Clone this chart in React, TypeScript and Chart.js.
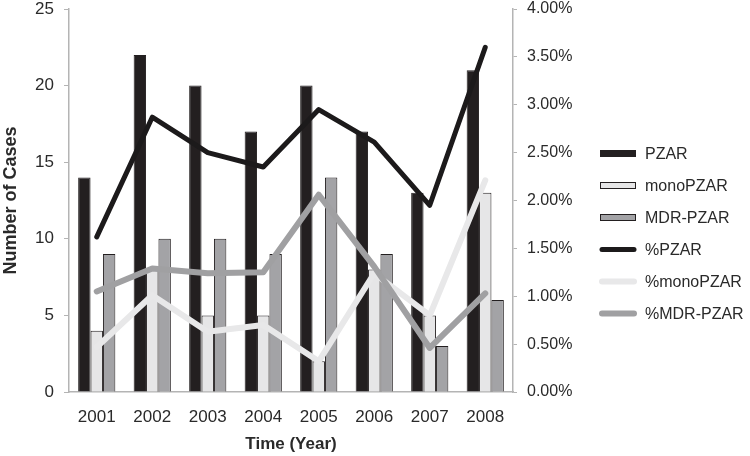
import { useEffect, useRef } from "react";
import { Chart, registerables } from "chart.js";

Chart.register(...registerables);

const years = ["2001", "2002", "2003", "2004", "2005", "2006", "2007", "2008"];
const pzar = [14, 22, 20, 17, 20, 17, 13, 21];
const monoPzar = [4, 8, 5, 5, 2, 8, 5, 13];
const mdrPzar = [9, 10, 10, 9, 14, 9, 3, 6];
const pctPzar = [1.62, 2.87, 2.5, 2.35, 2.95, 2.61, 1.95, 3.6];
const pctMono = [0.47, 1.01, 0.63, 0.7, 0.32, 1.24, 0.8, 2.21];
const pctMdr = [1.05, 1.29, 1.24, 1.25, 2.06, 1.31, 0.46, 1.03];

const FONT = "'Liberation Sans', Arial, Helvetica, sans-serif";
const TEXT = "#2a2a2a";
const AXIS = "#b4b4b4";

const sideLegend = {
  id: "sideLegend",
  afterDraw(chart: any) {
    const ctx = chart.ctx as CanvasRenderingContext2D;
    const area = chart.chartArea;
    const items = chart.data.datasets as any[];
    const rowH = 32;
    const boxW = 36;
    const x0 = area.right + 87;
    const cy = (area.top + area.bottom) / 2 + 33;
    let y = cy - ((items.length - 1) * rowH) / 2;
    ctx.save();
    ctx.font = `16px ${FONT}`;
    ctx.textBaseline = "middle";
    ctx.textAlign = "left";
    for (const ds of items) {
      if (ds.type === "bar") {
        ctx.fillStyle = ds.backgroundColor;
        ctx.fillRect(x0, y - 3.5, boxW, 7);
        ctx.lineWidth = 1;
        ctx.strokeStyle = ds.borderColor;
        ctx.strokeRect(x0 + 0.5, y - 3.5 + 0.5, boxW - 1, 6);
      } else {
        ctx.strokeStyle = ds.borderColor;
        ctx.lineWidth = ds.borderWidth;
        ctx.lineCap = "round";
        ctx.beginPath();
        ctx.moveTo(x0 + 2, y);
        ctx.lineTo(x0 + boxW - 2, y);
        ctx.stroke();
      }
      ctx.fillStyle = TEXT;
      ctx.fillText(ds.label, x0 + boxW + 9, y + 1);
      y += rowH;
    }
    ctx.restore();
  },
};

export default function App() {
  const ref = useRef<HTMLCanvasElement | null>(null);

  useEffect(() => {
    document.body.style.margin = "0";
    const canvas = ref.current;
    if (!canvas) return;
    const chart = new Chart(canvas, {
      type: "bar",
      data: {
        labels: years,
        datasets: [
          {
            type: "bar",
            label: "PZAR",
            data: pzar,
            backgroundColor: "#231f20",
            borderColor: "#231f20",
            borderWidth: 1,
            yAxisID: "y",
            order: 3,
            categoryPercentage: 0.67,
            barPercentage: 1,
          },
          {
            type: "bar",
            label: "monoPZAR",
            data: monoPzar,
            backgroundColor: "#e6e6e7",
            borderColor: "#231f20",
            borderWidth: 1,
            yAxisID: "y",
            order: 3,
            categoryPercentage: 0.67,
            barPercentage: 1,
          },
          {
            type: "bar",
            label: "MDR-PZAR",
            data: mdrPzar,
            backgroundColor: "#a3a3a6",
            borderColor: "#231f20",
            borderWidth: 1,
            yAxisID: "y",
            order: 3,
            categoryPercentage: 0.67,
            barPercentage: 1,
          },
          {
            type: "line",
            label: "%PZAR",
            data: pctPzar,
            borderColor: "#1c1a1b",
            backgroundColor: "#1c1a1b",
            borderWidth: 5,
            pointRadius: 0,
            tension: 0,
            borderJoinStyle: "round",
            borderCapStyle: "round",
            yAxisID: "y1",
            order: 2,
          },
          {
            type: "line",
            label: "%monoPZAR",
            data: pctMono,
            borderColor: "#e8e8e9",
            backgroundColor: "#e8e8e9",
            borderWidth: 6,
            pointRadius: 0,
            tension: 0,
            borderJoinStyle: "round",
            borderCapStyle: "round",
            yAxisID: "y1",
            order: 1,
          },
          {
            type: "line",
            label: "%MDR-PZAR",
            data: pctMdr,
            borderColor: "#a0a0a2",
            backgroundColor: "#a0a0a2",
            borderWidth: 6,
            pointRadius: 0,
            tension: 0,
            borderJoinStyle: "round",
            borderCapStyle: "round",
            yAxisID: "y1",
            order: 0,
          },
        ] as any,
      },
      options: {
        animation: false,
        responsive: false,
        maintainAspectRatio: false,
        layout: { padding: { top: 9, left: 0, right: 0, bottom: 0 } },
        plugins: {
          legend: { display: false },
          tooltip: { enabled: false },
        },
        scales: {
          x: {
            grid: { display: false },
            border: { display: true, color: AXIS, width: 1.5 },
            ticks: {
              color: TEXT,
              font: { family: FONT, size: 17 },
              padding: 7,
              maxRotation: 0,
            },
            title: {
              display: true,
              text: "Time (Year)",
              color: TEXT,
              font: { family: FONT, size: 17, weight: "bold" },
              padding: { top: 4, bottom: 1 },
            },
            afterFit: (s: any) => {
              s.height = 64;
              s.paddingLeft = 0;
              s.paddingRight = 0;
            },
          },
          y: {
            position: "left",
            min: 0,
            max: 25,
            grid: {
              display: true,
              drawOnChartArea: false,
              drawTicks: true,
              tickLength: 5,
              color: AXIS,
            },
            border: { display: true, color: AXIS, width: 1.5 },
            ticks: {
              stepSize: 5,
              color: TEXT,
              font: { family: FONT, size: 17 },
              padding: 10,
            },
            title: {
              display: true,
              text: "Number of Cases",
              color: TEXT,
              font: { family: FONT, size: 18, weight: "bold" },
              padding: { top: 0, bottom: 0 },
            },
            afterFit: (s: any) => {
              s.width = 69;
              s.paddingTop = 0;
              s.paddingBottom = 0;
            },
          },
          y1: {
            position: "right",
            min: 0,
            max: 4,
            grid: {
              display: true,
              drawOnChartArea: false,
              drawTicks: true,
              tickLength: 4,
              color: AXIS,
            },
            border: { display: true, color: AXIS, width: 1.5 },
            ticks: {
              stepSize: 0.5,
              color: TEXT,
              font: { family: FONT, size: 16 },
              padding: 10,
              callback: (v: any) => Number(v).toFixed(2) + "%",
            },
            afterFit: (s: any) => {
              s.width = 237;
              s.paddingTop = 0;
              s.paddingBottom = 0;
            },
          },
        },
      },
      plugins: [sideLegend],
    });
    return () => chart.destroy();
  }, []);

  return (
    <div style={{ width: 750, height: 456 }}>
      <canvas ref={ref} width={750} height={456} style={{ display: "block" }} />
    </div>
  );
}
